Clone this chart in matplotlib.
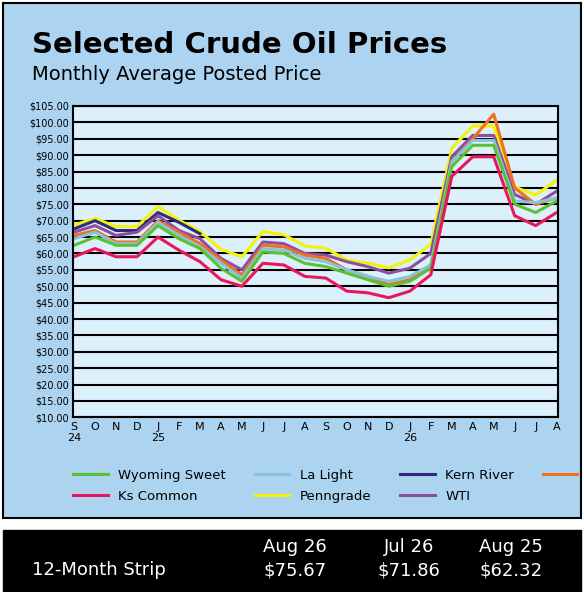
import matplotlib
matplotlib.use("Agg")
import matplotlib.pyplot as plt
import numpy as np
from matplotlib.patches import Rectangle

months = ["S\n24","O","N","D","J\n25","F","M","A","M","J","J","A","S","O","N","D","J\n26","F","M","A","M","J","J","A"]
wyoming = [62.5,65,62.5,62.5,68.5,64.5,61.5,55.5,51.5,60.5,60,57,56,54,52,50,51.5,55.5,86.5,93,93,75,72.5,76]
la_light = [64.5,66.5,63,63,69.5,65.5,62,57,52.5,61.5,61,58.5,57.5,55,53,51.5,53,56.5,88,94.5,94.5,76,75.5,77]
kern = [67.5,70,67,67,72.5,69.5,66] + [np.nan]*17
wts = [65.5,67,63.5,63.5,70,66.5,63,58,53.5,62.5,62,59.5,58.5,55,53,50.5,52,56,88,95,102.5,80,75,77]
ks = [59,61.5,59,59,65,61,57.5,52,50,57,56.5,53,52.5,48.5,48,46.5,48.5,53.5,83.5,89.5,89.5,71.5,68.5,72.5]
penn = [68.7,70.7,68.2,68.2,74.3,70.2,66.7,61.3,59,66.7,65.7,62.3,61.6,58,57.1,55.6,58,62.8,92.1,98.9,98.9,80.3,77.8,82.4]
wti = [66.5,68.5,65.5,66.5,71.5,67,64.5,58.5,55,63.5,63,60,59.5,57.5,56,54,55.5,60,89.5,96,96,78,75,79]

series = [("Wyoming Sweet",wyoming,"#5cc033"),("La Light",la_light,"#86c3dc"),("Kern River",kern,"#2e2a7e"),
          ("WTS",wts,"#f07020"),("Ks Common",ks,"#e8175d"),("Penngrade",penn,"#f2f20a"),("WTI",wti,"#8a4fa0")]
draw_order = ["Penngrade","Kern River","WTI","WTS","La Light","Wyoming Sweet","Ks Common"]

fig = plt.figure(figsize=(5.84,5.92), dpi=100)
fig.patch.set_facecolor("white")
fig.add_artist(Rectangle((0.005,0.125),0.99,0.87,transform=fig.transFigure,facecolor="#acd3f0",edgecolor="black",lw=1.5,zorder=-10))
fig.add_artist(Rectangle((0.005,0.0),0.99,0.105,transform=fig.transFigure,facecolor="black",edgecolor="black",zorder=-10))
fig.text(0.055,0.91,"Selected Crude Oil Prices",fontsize=21,fontweight="heavy",color="black")
fig.text(0.055,0.865,"Monthly Average Posted Price",fontsize=14,color="black")

ax = fig.add_axes([0.125,0.295,0.83,0.526])
ax.set_facecolor("#dcf0fb")
x = np.arange(len(months))
d = {n:(v,c) for n,v,c in series}
for n in draw_order:
    v,c = d[n]
    ax.plot(x,v,color=c,lw=2.2,label=n)
ax.set_xlim(-0.05,len(months)-0.95)
ax.set_ylim(10,105)
ax.set_yticks(np.arange(10,106,5))
ax.set_yticklabels([f"${t:.2f}" for t in np.arange(10,106,5)],fontsize=7)
ax.set_xticks(x)
ax.set_xticklabels(months,fontsize=8)
ax.grid(axis="y",color="black",lw=1.5)
ax.set_axisbelow(True)
for s in ax.spines.values():
    s.set_linewidth(1.5)
ax.tick_params(length=0,pad=3)

handles = {l.get_label():l for l in ax.get_lines()}
order = ["Wyoming Sweet","Ks Common","La Light","Penngrade","Kern River","WTI","WTS"]
fig.legend([handles[n] for n in order],order,loc="upper left",bbox_to_anchor=(0.105,0.228),ncol=4,
           frameon=False,fontsize=9.5,handlelength=2.6,columnspacing=2.2,labelspacing=0.6)

fig.text(0.055,0.028,"12-Month Strip",color="white",fontsize=13)
for xc,a,b in [(0.505,"Aug 26","$75.67"),(0.70,"Jul 26","$71.86"),(0.875,"Aug 25","$62.32")]:
    fig.text(xc,0.068,a,color="white",fontsize=13,ha="center")
    fig.text(xc,0.028,b,color="white",fontsize=13,ha="center")

fig.savefig("out.png",dpi=100,facecolor=fig.get_facecolor())
